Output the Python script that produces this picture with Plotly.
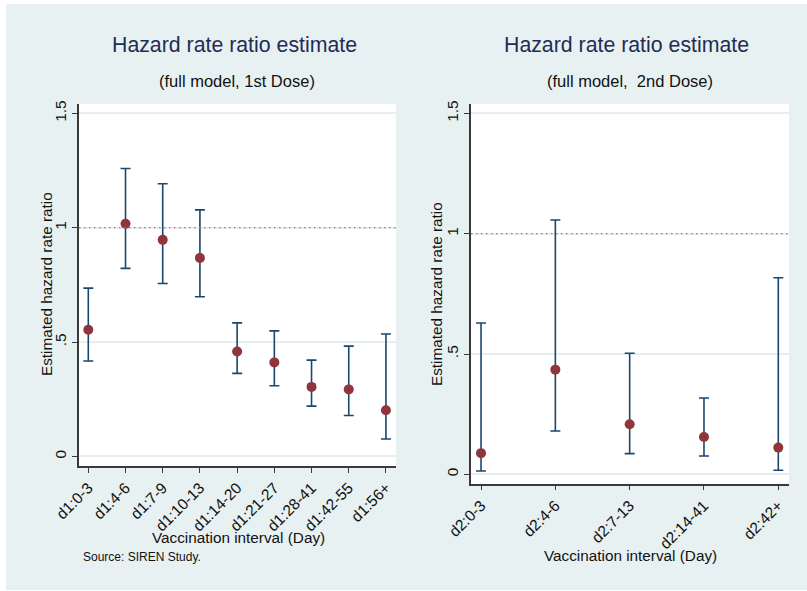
import plotly.graph_objects as go

# ---- data ----
dose1_intervals = ["d1:0-3", "d1:4-6", "d1:7-9", "d1:10-13", "d1:14-20",
                   "d1:21-27", "d1:28-41", "d1:42-55", "d1:56+"]
dose1_hr = [0.554, 1.017, 0.947, 0.868, 0.459, 0.411, 0.304, 0.293, 0.202]
dose1_lo = [0.417, 0.822, 0.756, 0.698, 0.363, 0.309, 0.220, 0.179, 0.076]
dose1_hi = [0.736, 1.259, 1.192, 1.078, 0.584, 0.549, 0.421, 0.482, 0.535]

dose2_intervals = ["d2:0-3", "d2:4-6", "d2:7-13", "d2:14-41", "d2:42+"]
dose2_hr = [0.088, 0.435, 0.208, 0.155, 0.111]
dose2_lo = [0.014, 0.180, 0.086, 0.076, 0.017]
dose2_hi = [0.629, 1.057, 0.503, 0.317, 0.817]

y_ticks = [0, 0.5, 1, 1.5]
y_ticklabels = ["0", ".5", "1", "1.5"]

# ---- styles ----
W, H = 807, 591
BG = "#e8f1f2"
NAVY = "#1a476f"
MAROON = "#90353b"
AXIS = "#3a3a3a"
GRID = "#e6eff0"
FONT = "Liberation Sans, Arial, sans-serif"

fig = go.Figure()

def add_panel(cats, hr, lo, hi, xa, ya):
    fig.add_trace(go.Scatter(
        x=cats, y=hr, mode="markers",
        marker=dict(color=MAROON, size=10),
        error_y=dict(type="data", symmetric=False,
                     array=[h - v for h, v in zip(hi, hr)],
                     arrayminus=[v - l for v, l in zip(hr, lo)],
                     color=NAVY, thickness=1.6, width=5),
        xaxis=xa, yaxis=ya, showlegend=False, hoverinfo="skip"))

add_panel(dose1_intervals, dose1_hr, dose1_lo, dose1_hi, "x", "y")
add_panel(dose2_intervals, dose2_hr, dose2_lo, dose2_hi, "x2", "y2")

def px_x(p):
    return p / W

def px_y(p):
    return 1 - p / H

common_x = dict(type="category", showline=True, linecolor=AXIS, linewidth=1.5,
                ticks="outside", ticklen=5, tickcolor=AXIS, tickwidth=1.2,
                tickangle=-45, showgrid=False, zeroline=False, automargin=False,
                tickfont=dict(family=FONT, size=15.5, color="#111"), fixedrange=True)
common_y = dict(showline=True, linecolor=AXIS, linewidth=1.5,
                ticks="outside", ticklen=5, tickcolor=AXIS, tickwidth=1.2,
                tickangle=-90, tickvals=y_ticks, ticktext=y_ticklabels,
                showgrid=True, gridcolor=GRID, gridwidth=1.5, zeroline=False,
                automargin=False,
                tickfont=dict(family=FONT, size=15.5, color="#111"), fixedrange=True)

fig.update_layout(
    template="none",
    width=W, height=H,
    margin=dict(l=0, r=0, t=0, b=0, pad=0),
    paper_bgcolor=BG,
    plot_bgcolor="white",
    font=dict(family=FONT, color="#111"),
    xaxis=dict(common_x, domain=[px_x(79), px_x(396)], range=[-0.25, 8.27], anchor="y"),
    yaxis=dict(common_y, domain=[px_y(466), px_y(104)], range=[-0.042, 1.541], anchor="x"),
    xaxis2=dict(common_x, domain=[px_x(471), px_x(789)], range=[-0.135, 4.144], anchor="y2"),
    yaxis2=dict(common_y, domain=[px_y(483.7), px_y(104)], range=[-0.039, 1.539], anchor="x2"),
)

# white outer border strips (outside the light background region)
for x0, x1, y0, y1 in ((0, 6, 0, H), (0, W, 0, 4), (0, W, 590, H)):
    fig.add_shape(type="rect", xref="paper", yref="paper", layer="below",
                  x0=px_x(x0), x1=px_x(x1), y0=px_y(y1), y1=px_y(y0),
                  fillcolor="white", line=dict(width=0))

# reference lines at 1
for xr, yr in (("x domain", "y"), ("x2 domain", "y2")):
    fig.add_shape(type="line", xref=xr, yref=yr, x0=0, x1=1, y0=1, y1=1,
                  line=dict(color="#e0606c", width=1.3, dash="1.5px,3.5px"),
                  layer="above")

def ann(text, x, y, size, color="#111", angle=0):
    fig.add_annotation(text=text, x=px_x(x), y=px_y(y), xref="paper", yref="paper",
                       showarrow=False, textangle=angle, xanchor="center", yanchor="middle",
                       font=dict(family=FONT, size=size, color=color))

TITLE_C = "#1f2d55"
ann("Hazard rate ratio estimate", 234, 45, 21.3, TITLE_C)
ann("(full model, 1st Dose)", 237, 81, 16.5)
ann("Hazard rate ratio estimate", 626, 45, 21.3, TITLE_C)
ann("(full model,  2nd Dose)", 629.5, 81, 16.5)

ann("Estimated hazard rate ratio", 46, 284, 15.3, angle=-90)
ann("Estimated hazard rate ratio", 437, 294, 15.3, angle=-90)

ann("Vaccination interval (Day)", 238, 537.5, 15.3)
ann("Vaccination interval (Day)", 630, 555, 15.3)

fig.add_annotation(text="Source: SIREN Study.", x=px_x(81), y=px_y(557),
                   xref="paper", yref="paper", showarrow=False,
                   xanchor="left", yanchor="middle",
                   font=dict(family=FONT, size=12, color="#111"))

fig.write_html("out.html", config={"displayModeBar": False},
               post_script="document.body.style.margin='0';document.body.style.padding='0';")
